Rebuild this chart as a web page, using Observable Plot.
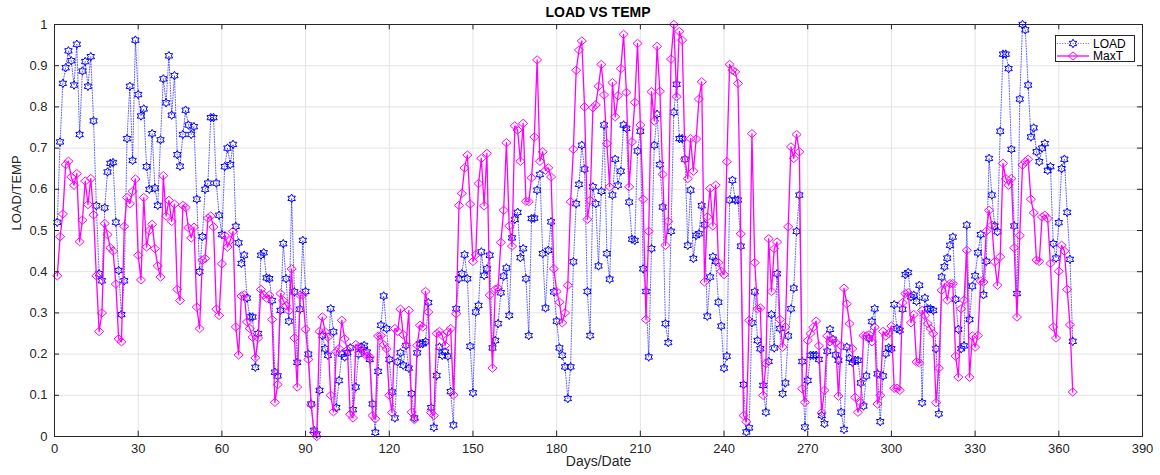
<!DOCTYPE html>
<html><head><meta charset="utf-8">
<script src="https://cdn.jsdelivr.net/npm/d3@7"></script>
<script src="https://cdn.jsdelivr.net/npm/@observablehq/plot@0.6"></script>
<style>
body{margin:0;background:#fff;font-family:"Liberation Sans",Arial,sans-serif;}
#wrap{position:relative;width:1160px;height:475px;overflow:hidden;}
#title{height:20px;line-height:24px;text-align:center;font-weight:bold;font-size:14px;color:#000;width:1160px;padding-left:36px;box-sizing:border-box;}
#legend{position:absolute;left:1055px;top:35px;}
</style></head><body>
<div id="wrap"><div id="title">LOAD VS TEMP</div><div id="chart"></div>
<svg id="legend" width="81" height="28"></svg></div>
<script>
const seriesNames = ["LOAD", "MaxT"];
const xTicks = [0, 30, 60, 90, 120, 150, 180, 210, 240, 270, 300, 330, 360, 390];
const yTicks = [0, 0.1, 0.2, 0.3, 0.4, 0.5, 0.6, 0.7, 0.8, 0.9, 1];

const loadValues = [
0.52,0.715,0.857,0.895,0.936,0.912,0.853,0.952,0.733,0.887,
0.91,0.85,0.922,0.766,0.56,0.395,0.378,0.555,0.642,0.663,
0.665,0.52,0.403,0.296,0.378,0.723,0.85,0.67,0.962,0.83,
0.778,0.795,0.655,0.60,0.735,0.603,0.561,0.72,0.868,0.81,
0.924,0.78,0.876,0.684,0.656,0.733,0.792,0.756,0.733,0.752,
0.576,0.40,0.485,0.60,0.615,0.774,0.774,0.615,0.537,0.49,
0.655,0.70,0.66,0.709,0.51,0.47,0.42,0.44,0.336,0.29,
0.29,0.168,0.25,0.44,0.446,0.385,0.383,0.33,0.156,0.147,
0.306,0.468,0.383,0.28,0.578,0.351,0.18,0.309,0.476,0.352,
0.20,0.079,0.015,0.006,0.112,0.245,0.213,0.197,0.31,0.254,
0.07,0.136,0.2,0.193,0.203,0.215,0.065,0.12,0.2,0.217,
0.221,0.205,0.187,0.079,0.01,0.158,0.27,0.341,0.262,0.187,
0.108,0.045,0.181,0.203,0.173,0.221,0.166,0.104,0.045,0.203,
0.225,0.225,0.23,0.325,0.07,0.022,0.148,0.217,0.197,0.205,
0.195,0.109,0.028,0.31,0.383,0.395,0.441,0.383,0.219,0.106,
0.302,0.318,0.448,0.391,0.407,0.44,0.215,0.233,0.274,0.349,
0.389,0.409,0.294,0.482,0.527,0.544,0.434,0.456,0.383,0.245,
0.529,0.53,0.598,0.636,0.444,0.312,0.452,0.521,0.351,0.28,
0.215,0.197,0.169,0.092,0.169,0.424,0.565,0.612,0.707,0.649,
0.352,0.245,0.606,0.565,0.414,0.595,0.756,0.444,0.382,0.586,
0.673,0.61,0.644,0.756,0.748,0.569,0.479,0.476,0.693,0.741,
0.407,0.352,0.193,0.456,0.707,0.782,0.66,0.557,0.274,0.228,
0.498,0.787,0.855,0.723,0.723,0.673,0.464,0.598,0.432,0.488,
0.492,0.56,0.514,0.292,0.387,0.436,0.425,0.326,0.268,0.166,
0.195,0.574,0.622,0.574,0.574,0.462,0.126,0.011,0.021,0.276,
0.351,0.233,0.213,0.124,0.059,0.182,0.296,0.215,0.395,0.262,
0.104,0.13,0.244,0.31,0.36,0.498,0.586,0.182,0.023,0.136,
0.197,0.197,0.197,0.187,0.051,0.031,0.207,0.26,0.236,0.198,
0.185,0.059,0.017,0.217,0.19,0.18,0.185,0.185,0.13,0.074,
0.147,0.239,0.279,0.31,0.152,0.036,0.147,0.201,0.215,0.213,
0.32,0.262,0.258,0.309,0.393,0.398,0.339,0.343,0.328,0.367,
0.082,0.336,0.31,0.31,0.306,0.213,0.055,0.387,0.412,0.433,
0.464,0.484,0.333,0.26,0.213,0.22,0.513,0.284,0.365,0.39,
0.446,0.49,0.344,0.425,0.675,0.586,0.511,0.497,0.741,0.928,
0.928,0.893,0.697,0.511,0.347,0.819,1.0,0.987,0.853,0.727,
0.749,0.691,0.667,0.70,0.711,0.646,0.655,0.468,0.433,0.519,
0.65,0.673,0.544,0.43,0.231
];

const maxTValues = [
0.39,0.485,0.54,0.66,0.668,0.63,0.61,0.638,0.473,0.525,
0.62,0.563,0.626,0.538,0.39,0.255,0.30,0.517,0.49,0.458,
0.45,0.37,0.237,0.23,0.51,0.58,0.565,0.595,0.625,0.44,
0.38,0.58,0.46,0.50,0.515,0.456,0.414,0.387,0.633,0.535,
0.573,0.522,0.564,0.357,0.33,0.561,0.556,0.507,0.482,0.508,
0.314,0.262,0.428,0.432,0.53,0.535,0.509,0.309,0.294,0.419,
0.488,0.46,0.476,0.498,0.266,0.198,0.341,0.344,0.278,0.262,
0.241,0.191,0.239,0.357,0.344,0.336,0.343,0.284,0.083,0.126,
0.347,0.33,0.318,0.305,0.407,0.239,0.12,0.343,0.343,0.26,
0.187,0.077,0.01,0.0,0.255,0.29,0.254,0.241,0.10,0.06,
0.206,0.213,0.282,0.237,0.21,0.054,0.045,0.223,0.217,0.21,
0.205,0.195,0.193,0.051,0.043,0.244,0.245,0.223,0.213,0.10,
0.058,0.262,0.255,0.309,0.247,0.221,0.306,0.059,0.041,0.221,
0.27,0.266,0.352,0.302,0.058,0.051,0.25,0.255,0.245,0.221,
0.254,0.262,0.101,0.298,0.561,0.59,0.652,0.683,0.564,0.425,
0.441,0.614,0.675,0.56,0.687,0.343,0.166,0.357,0.36,0.471,
0.549,0.713,0.511,0.462,0.754,0.744,0.668,0.76,0.571,0.57,
0.628,0.727,0.914,0.668,0.691,0.646,0.652,0.63,0.407,0.352,
0.326,0.276,0.30,0.367,0.57,0.697,0.889,0.938,0.96,0.80,
0.527,0.573,0.798,0.805,0.85,0.903,0.829,0.711,0.606,0.859,
0.776,0.827,0.893,0.976,0.835,0.606,0.715,0.811,0.954,0.756,
0.576,0.284,0.498,0.837,0.766,0.947,0.838,0.636,0.464,0.522,
0.916,1.0,0.825,0.983,0.962,0.673,0.626,0.723,0.644,0.722,
0.819,0.861,0.375,0.533,0.602,0.511,0.61,0.422,0.401,0.393,
0.667,0.903,0.889,0.885,0.857,0.492,0.051,0.036,0.282,0.735,
0.422,0.31,0.312,0.10,0.177,0.48,0.352,0.456,0.472,0.284,
0.217,0.266,0.509,0.703,0.675,0.733,0.691,0.116,0.083,0.233,
0.25,0.265,0.28,0.22,0.058,0.112,0.244,0.23,0.235,0.228,
0.098,0.22,0.36,0.322,0.274,0.213,0.095,0.059,0.082,0.245,
0.244,0.247,0.23,0.265,0.079,0.10,0.255,0.244,0.25,0.268,
0.117,0.117,0.112,0.325,0.347,0.349,0.276,0.296,0.181,0.179,
0.306,0.294,0.274,0.262,0.25,0.082,0.166,0.355,0.371,0.331,
0.371,0.371,0.195,0.144,0.31,0.331,0.452,0.144,0.244,0.217,
0.245,0.377,0.375,0.498,0.549,0.513,0.424,0.367,0.436,0.663,
0.626,0.61,0.626,0.458,0.29,0.488,0.659,0.667,0.673,0.576,
0.543,0.428,0.425,0.533,0.537,0.529,0.42,0.266,0.239,0.401,
0.464,0.45,0.357,0.271,0.108
];

const colors = {LOAD: "#0000ff", MaxT: "#ff00ff"};

const hexagram = {
  draw(ctx, size) {
    const r = Math.sqrt(size / Math.PI), ri = r * 0.577;
    for (let i = 0; i < 12; i++) {
      const a = -Math.PI / 2 + i * Math.PI / 6, rr = i % 2 ? ri : r;
      const px = rr * Math.cos(a), py = rr * Math.sin(a);
      if (i) ctx.lineTo(px, py); else ctx.moveTo(px, py);
    }
    ctx.closePath();
  }
};
const diamond = {
  draw(ctx, size) {
    const r = Math.sqrt(size / Math.PI);
    ctx.moveTo(0, -r * 0.9); ctx.lineTo(r, 0); ctx.lineTo(0, r * 0.9); ctx.lineTo(-r, 0); ctx.closePath();
  }
};

const loadData = loadValues.map((v, i) => ({day: i + 1, v}));
const maxTData = maxTValues.map((v, i) => ({day: i + 1, v}));

const chart = Plot.plot({
  width: 1160, height: 455,
  marginLeft: 54, marginRight: 18, marginTop: 4, marginBottom: 39,
  style: {fontFamily: '"Liberation Sans", Arial, sans-serif', fontSize: "13px", color: "#262626", background: "#fff", overflow: "visible"},
  x: {domain: [0, 390], ticks: xTicks, tickSize: 0, tickPadding: 7, label: null},
  y: {domain: [0, 1], ticks: yTicks, tickSize: 0, tickPadding: 7, label: null, tickFormat: d => String(+d.toFixed(1))},
  marks: [
    Plot.ruleX(xTicks, {stroke: "#e3e3e3"}),
    Plot.ruleY(yTicks, {stroke: "#e3e3e3"}),
    Plot.line(loadData, {x: "day", y: "v", stroke: colors.LOAD, strokeWidth: 0.9, strokeDasharray: "1,1.6", strokeOpacity: 0.7}),
    Plot.dot(loadData, {x: "day", y: "v", symbol: hexagram, r: 4.3, stroke: colors.LOAD, fill: "none", strokeWidth: 1}),
    Plot.line(maxTData, {x: "day", y: "v", stroke: colors.MaxT, strokeWidth: 1.3}),
    Plot.dot(maxTData, {x: "day", y: "v", symbol: diamond, r: 4.6, stroke: colors.MaxT, fill: "none", strokeWidth: 1}),
    Plot.ruleX(xTicks, {y1: 0, y2: 0.013, stroke: "#262626"}),
    Plot.ruleX(xTicks, {y1: 1, y2: 0.987, stroke: "#262626"}),
    Plot.ruleY(yTicks, {x1: 0, x2: 1.8, stroke: "#262626"}),
    Plot.ruleY(yTicks, {x1: 390, x2: 388.2, stroke: "#262626"}),
    Plot.frame({stroke: "#262626"}),
    Plot.text(["Days/Date"], {frameAnchor: "bottom", dy: 29, fontSize: 14, fill: "#262626"}),
    Plot.text(["LOAD/TEMP"], {frameAnchor: "left", dx: -38, rotate: -90, fontSize: 13, fill: "#262626"})
  ]
});
document.getElementById("chart").appendChild(chart);

// legend
const lg = d3.select("#legend");
lg.append("rect").attr("x", 0.5).attr("y", 0.5).attr("width", 79).attr("height", 26).attr("fill", "#fff").attr("stroke", "#262626");
const rows = [
  {name: seriesNames[0], y: 8.5, dash: "1,1.6", op: 0.7, sym: d3.symbol(hexagram, Math.PI * 4.3 * 4.3)},
  {name: seriesNames[1], y: 21, dash: null, op: 1, sym: d3.symbol(diamond, Math.PI * 4.6 * 4.6)}
];
rows.forEach(r => {
  const c = colors[r.name];
  lg.append("line").attr("x1", 2).attr("x2", 34).attr("y1", r.y).attr("y2", r.y).attr("stroke", c)
    .attr("stroke-width", r.dash ? 0.9 : 1.3).attr("stroke-dasharray", r.dash).attr("stroke-opacity", r.op);
  lg.append("path").attr("d", r.sym()).attr("transform", `translate(18,${r.y})`).attr("fill", "none").attr("stroke", c);
  lg.append("text").attr("x", 38).attr("y", r.y).attr("dy", "0.35em").attr("font-size", 12)
    .attr("font-family", '"Liberation Sans", Arial, sans-serif').attr("fill", "#000").text(r.name);
});
</script>
</body></html>
